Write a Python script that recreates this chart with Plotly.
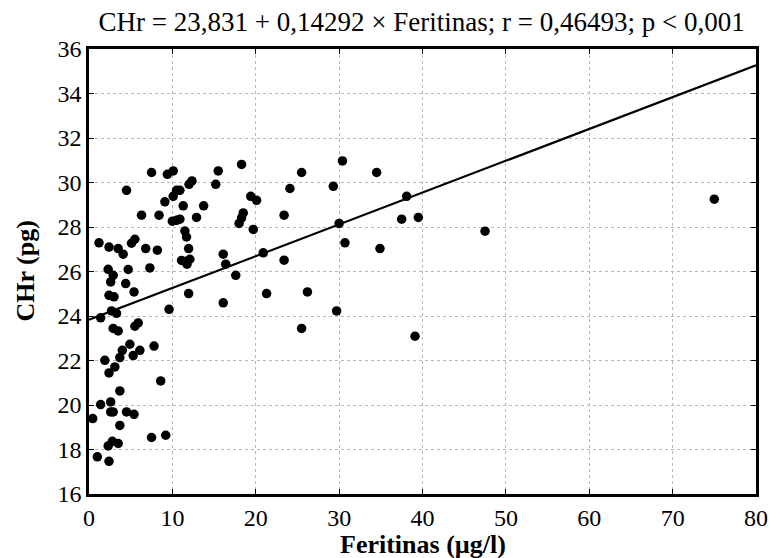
import numpy as np
import plotly.graph_objects as go

# Data
feritinas = [
    7.5, 9.4, 10.1, 4.5, 12.35, 12.0, 10.5, 10.9, 10.1, 9.1, 11.3, 13.75, 6.3, 8.4, 12.9,
    10.0, 10.5, 10.9, 11.5, 11.7, 1.2, 2.4, 3.5, 4.1, 5.1, 5.5, 6.8, 8.2, 11.95, 11.1,
    11.7, 11.75, 12.1, 2.3, 4.7, 7.3, 2.9, 2.6, 4.4, 5.4, 2.4, 3.0, 11.95, 9.6, 2.7,
    3.3, 1.4, 2.9, 3.5, 5.5, 5.9, 4.9, 4.0, 6.1, 5.3, 7.8, 3.7, 1.9, 3.1, 2.4,
    8.6, 3.7, 1.4, 2.6, 0.45, 2.6, 2.9, 4.5, 5.4, 3.7, 7.5, 9.2, 2.8, 2.3, 3.5,
    1.0, 2.4,
    15.5, 18.3, 15.2, 25.5, 30.4, 19.4, 20.1, 24.1, 29.3, 18.5, 18.3, 18.0, 23.4, 19.7,
    30.0, 30.7, 16.1, 16.4, 20.9, 23.4, 17.6, 21.3, 26.2, 16.1, 29.7, 25.5,
    34.5, 38.1, 37.5, 39.5, 34.9, 47.5, 39.1, 75.0,
]
chr_pg = [
    30.45, 30.37, 30.52, 29.65, 30.07, 29.92, 29.65, 29.65, 29.38, 29.13, 28.95, 28.95, 28.53, 28.53, 28.43,
    28.26, 28.30, 28.35, 27.82, 27.55, 27.29, 27.10, 27.03, 26.78, 27.27, 27.45, 27.03, 26.96, 27.03, 26.50,
    26.46, 26.33, 26.55, 26.10, 26.09, 26.16, 25.83, 25.53, 25.46, 25.08, 24.93, 24.86, 25.01, 24.30, 24.23,
    24.12, 23.92, 23.44, 23.33, 23.54, 23.69, 22.73, 22.46, 22.46, 22.22, 22.65, 22.13, 22.01, 21.71, 21.44,
    21.08, 20.63, 20.02, 20.14, 19.39, 19.69, 19.69, 19.69, 19.58, 19.08, 18.54, 18.64, 18.37, 18.16, 18.27,
    17.67, 17.47,
    30.52, 30.81, 29.92, 30.45, 30.97, 29.38, 29.20, 29.73, 29.83, 28.63, 28.41, 28.16, 28.53, 27.89,
    28.16, 27.29, 26.78, 26.33, 26.84, 26.51, 25.83, 25.01, 25.08, 24.59, 24.23, 23.44,
    30.45, 29.38, 28.35, 28.43, 27.03, 27.81, 23.09, 29.25,
]
intercept = 23.831
slope = 0.14292
x_range = [0, 80]
y_range = [16, 36]
x_ticks = list(range(0, 81, 10))
y_ticks = list(range(16, 37, 2))
title_text = "CHr = 23,831 + 0,14292 × Feritinas; r = 0,46493; p < 0,001"
x_title = "Feritinas (µg/l)"
y_title = "CHr (pg)"

line_x = np.array(x_range, dtype=float)
line_y = intercept + slope * line_x

fig = go.Figure()
fig.add_trace(go.Scatter(
    x=line_x, y=line_y, mode="lines",
    line=dict(color="black", width=2.2), showlegend=False, hoverinfo="skip",
))
fig.add_trace(go.Scatter(
    x=feritinas, y=chr_pg, mode="markers",
    marker=dict(color="black", size=9.5, line=dict(width=0)), showlegend=False,
))

font_family = "Liberation Serif, Times New Roman, serif"
axis_common = dict(
    showline=True, linecolor="black", linewidth=2.5, mirror="ticks",
    ticks="inside", ticklen=5, tickwidth=1, tickcolor="black",
    showgrid=True, gridcolor="#b8b8b8", gridwidth=1, griddash="dot",
    zeroline=False, tickfont=dict(family=font_family, size=24, color="black"),
)
fig.update_xaxes(range=x_range, tickvals=x_ticks, ticktext=[str(t) for t in x_ticks], **axis_common)
fig.update_yaxes(range=y_range, tickvals=y_ticks, ticktext=[str(t) for t in y_ticks], **axis_common)

plot_top, plot_bottom, plot_left, plot_right = 49, 494, 89, 756
fig.add_annotation(
    text=f"<b>{x_title}</b>", xref="paper", yref="paper",
    x=0.5, y=(plot_bottom - 544) / (plot_bottom - plot_top),
    xanchor="center", yanchor="middle", showarrow=False,
    font=dict(family=font_family, size=26, color="black"),
)
fig.add_annotation(
    text=f"<b>{y_title}</b>", xref="paper", yref="paper",
    x=(25 - plot_left) / (plot_right - plot_left), y=0.5,
    xanchor="center", yanchor="middle", textangle=-90, showarrow=False,
    font=dict(family=font_family, size=26, color="black"),
)
fig.update_layout(
    width=775, height=558,
    margin=dict(l=plot_left, r=775 - plot_right, t=plot_top, b=558 - plot_bottom, autoexpand=False),
    paper_bgcolor="white", plot_bgcolor="white",
    title=dict(text=title_text, font=dict(family=font_family, size=27, color="black"),
               x=0.544, xanchor="center", y=1 - 22 / 558, yanchor="middle", yref="container"),
    font=dict(family=font_family, color="black"),
)
fig.write_html("out.html")
